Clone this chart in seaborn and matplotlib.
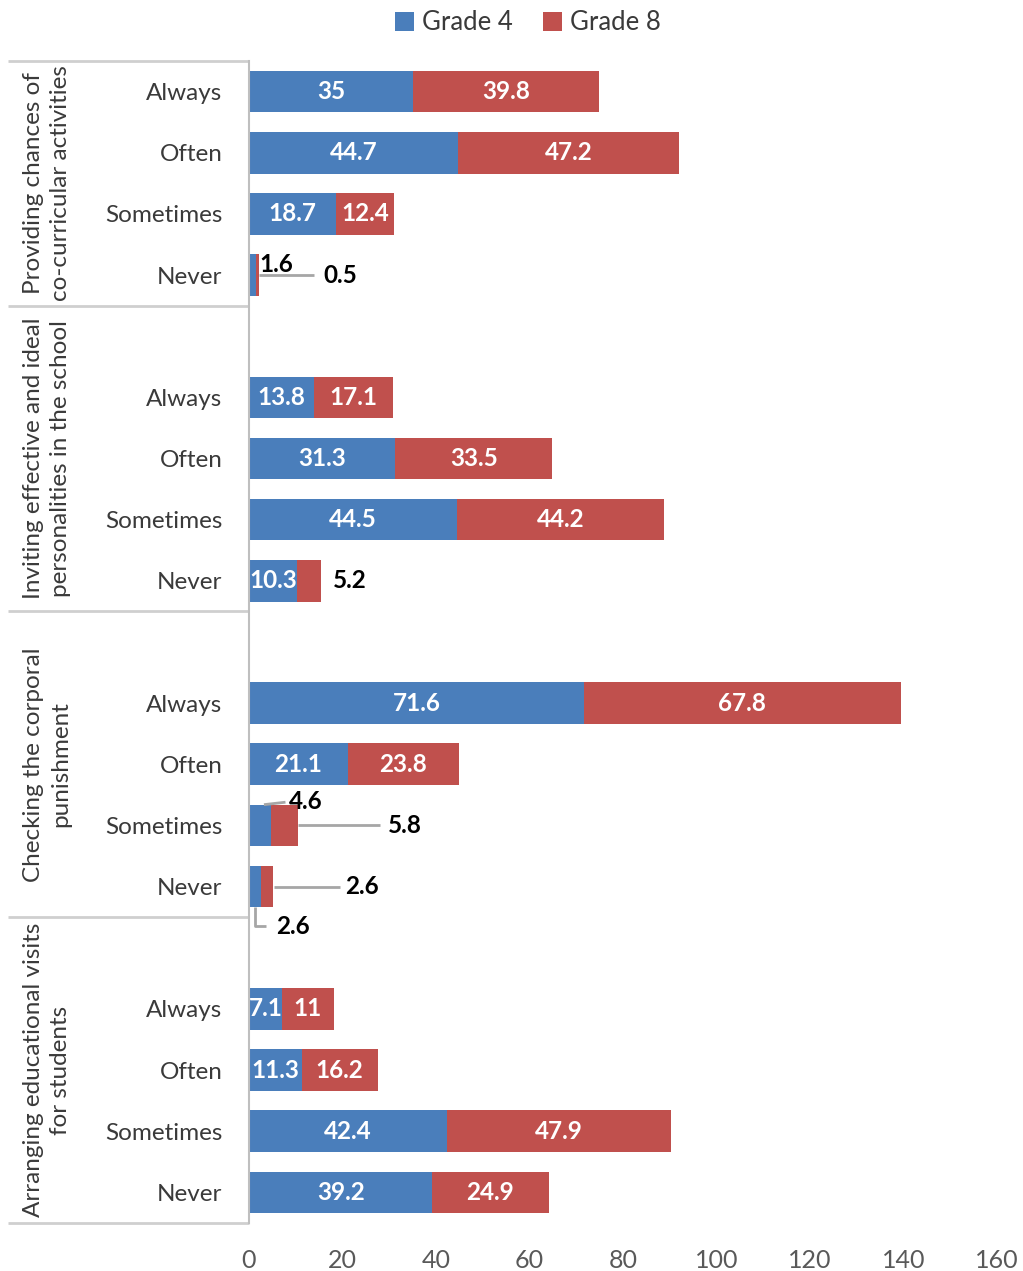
import matplotlib
matplotlib.use("Agg")
import matplotlib.pyplot as plt
from matplotlib.patches import Patch
import matplotlib.transforms as mtransforms
import numpy as np
import pandas as pd
import seaborn as sns

# ---- data -------------------------------------------------------------
groups = [
    "Providing chances of\nco-curricular activities",
    "Inviting effective and ideal\npersonalities in the school",
    "Checking the corporal\npunishment",
    "Arranging educational visits\nfor students",
]
responses = ["Always", "Often", "Sometimes", "Never"]
grade4 = [35, 44.7, 18.7, 1.6,
          13.8, 31.3, 44.5, 10.3,
          71.6, 21.1, 4.6, 2.6,
          7.1, 11.3, 42.4, 39.2]
grade8 = [39.8, 47.2, 12.4, 0.5,
          17.1, 33.5, 44.2, 5.2,
          67.8, 23.8, 5.8, 2.6,
          11, 16.2, 47.9, 24.9]
x_ticks = [0, 20, 40, 60, 80, 100, 120, 140, 160]

# ---- style ------------------------------------------------------------
BLUE = "#4A7EBB"
RED = "#C0504D"
sns.set_theme(style="white")
plt.rcParams["font.family"] = ["Lato", "DejaVu Sans"]

# one empty slot separates consecutive groups
slots = [g * 5 + r for g in range(len(groups)) for r in range(len(responses))]
df = pd.DataFrame({"slot": slots, "Grade 4": grade4, "Grade 8": grade8})

fig, ax = plt.subplots(figsize=(10.23, 12.71), dpi=100)
fig.subplots_adjust(left=0.2434, right=0.9746, bottom=0.0378, top=0.952)

sns.barplot(data=df, x="Grade 4", y="slot", orient="y", native_scale=True,
            color=BLUE, saturation=1, width=0.68, linewidth=0, ax=ax)
sns.barplot(data=df, x="Grade 8", y="slot", orient="y", native_scale=True,
            color=RED, saturation=1, width=0.68, linewidth=0,
            left=df["Grade 4"].to_numpy(), ax=ax)

ax.set_xlim(0, 160)
ax.set_ylim(18.5, -0.5)
ax.set_xticks(x_ticks)
ax.set_xticklabels([str(t) for t in x_ticks])
ax.set_yticks(slots)
ax.set_yticklabels(responses * len(groups))
ax.set_xlabel("")
ax.set_ylabel("")
ax.tick_params(axis="x", length=0, pad=19, labelsize=18, labelcolor="#595959")
ax.tick_params(axis="y", length=0, pad=19, labelsize=17.5, labelcolor="#3A3A3A")
for side in ["top", "right", "bottom"]:
    ax.spines[side].set_visible(False)
ax.spines["left"].set_color("#BFBFBF")
ax.spines["left"].set_linewidth(1.5)
ax.grid(False)

# ---- group brackets on the category axis --------------------------------
trans = mtransforms.blended_transform_factory(ax.transAxes, ax.transData)
bounds = [-0.5, 3.5, 8.5, 13.5, 18.5]
for b in bounds:
    ax.plot([-0.322, 0], [b, b], transform=trans, color="#CFCFCF", lw=2,
            clip_on=False, solid_capstyle="butt")
for g, name in enumerate(groups):
    mid = (bounds[g] + bounds[g + 1]) / 2
    ax.text(-0.270, mid, name, transform=trans, rotation=90, ha="center",
            va="center", fontsize=17.5, color="#3A3A3A", linespacing=1.4,
            multialignment="center")

# ---- value labels -------------------------------------------------------
fmt = lambda v: f"{v:g}"
lab = dict(fontsize=17.5, fontweight="bold")
lead = dict(color="#A6A6A6", lw=2, solid_capstyle="butt", clip_on=False)
outside4 = {3, 10, 11}
outside8 = {3, 7, 10, 11}

for i, (s, a, b) in enumerate(zip(slots, grade4, grade8)):
    if i not in outside4:
        ax.text(a / 2, s, fmt(a), ha="center", va="center", color="white", **lab)
    if i not in outside8:
        ax.text(a + b / 2, s, fmt(b), ha="center", va="center", color="white", **lab)

# labels for the thin segments, placed beside the bars with leader lines
# Providing chances / Never
s, a, b = slots[3], grade4[3], grade8[3]
end = a + b
ax.text(end + 0.1, s - 0.18, fmt(a), ha="left", va="center", color="black", **lab)
ax.plot([end + 0.1, end + 11.9], [s, s], **lead)
ax.text(end + 17.4, s, fmt(b), ha="center", va="center", color="black", **lab)

# Inviting personalities / Never
s, a, b = slots[7], grade4[7], grade8[7]
ax.text(a + b + 6.1, s, fmt(b), ha="center", va="center", color="black", **lab)

# Corporal punishment / Sometimes
s, a, b = slots[10], grade4[10], grade8[10]
ax.plot([a - 1.4, a + 3.2], [s - 0.34, s - 0.38], **lead)
ax.text(a + 7.6, s - 0.39, fmt(a), ha="center", va="center", color="black", **lab)
ax.plot([a + b + 0.1, a + b + 17.6], [s, s], **lead)
ax.text(a + b + 23.0, s, fmt(b), ha="center", va="center", color="black", **lab)

# Corporal punishment / Never
s, a, b = slots[11], grade4[11], grade8[11]
ax.plot([a + b + 0.1, a + b + 14.3], [s, s], **lead)
ax.text(a + b + 19.0, s, fmt(b), ha="center", va="center", color="black", **lab)
ax.plot([a / 2, a / 2, a + 1.1], [s + 0.34, s + 0.64, s + 0.64], **lead)
ax.text(a + 6.8, s + 0.66, fmt(a), ha="center", va="center", color="black", **lab)

# ---- legend -------------------------------------------------------------
handles = [Patch(facecolor=BLUE, edgecolor="none", label="Grade 4"),
           Patch(facecolor=RED, edgecolor="none", label="Grade 8")]
fig.legend(handles=handles, loc="center", bbox_to_anchor=(0.516, 0.982), ncol=2,
           frameon=False, fontsize=18.5, handlelength=0.75, handleheight=0.75,
           handletextpad=0.3, columnspacing=1.2, labelcolor="#3A3A3A")

fig.savefig("out.png", dpi=100)
